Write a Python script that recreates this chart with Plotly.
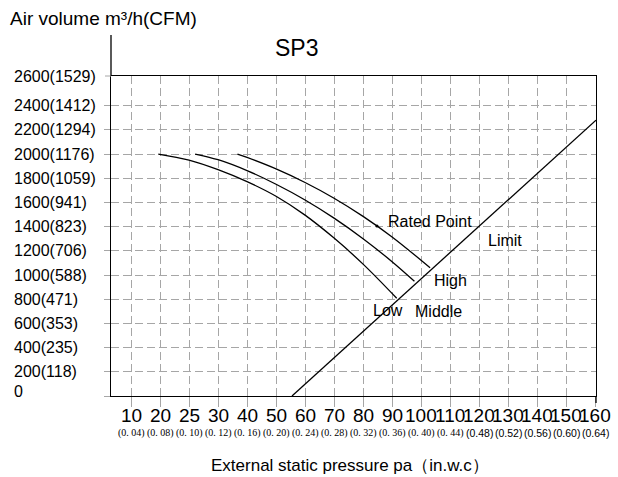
import plotly.graph_objects as go

# ---------------- data ----------------
x_tick_pos = [0, 10, 20, 30, 40, 50, 60, 70, 80, 90, 100, 110, 120, 130, 140, 150, 160]
x_tick_text = ["10", "20", "25", "30", "40", "50", "60", "70", "80", "90", "100",
               "110", "120", "130", "140", "150", "160"]
x_sub_text = ["(0. 04)", "(0. 08)", "(0. 10)", "(0. 12)", "(0. 16)", "(0. 20)", "(0. 24)",
              "(0. 28)", "(0. 32)", "(0. 36)", "(0. 40)", "(0. 44)", "(0.48)", "(0.52)",
              "(0.56)", "(0.60)", "(0.64)"]
y_tick_vals = [0, 200, 400, 600, 800, 1000, 1200, 1400, 1600, 1800, 2000, 2200, 2400]
y_tick_text = ["0", "200(118)", "400(235)", "600(353)", "800(471)", "1000(588)", "1200(706)",
               "1400(823)", "1600(941)", "1800(1059)", "2000(1176)", "2200(1294)", "2400(1412)"]
y_top_text = "2600(1529)"

low_p = [9.4, 20, 30, 40, 50, 60, 70, 80, 91.6]
low_v = [2000, 1950, 1871, 1772, 1651, 1495, 1305, 1090, 808]
mid_p = [22.1, 30, 40, 50, 60, 70, 80, 90, 97.7]
mid_v = [2000, 1953, 1863, 1750, 1620, 1470, 1300, 1110, 948]
high_p = [36.7, 40, 50, 60, 70, 80, 90, 103.1]
high_v = [2000, 1972, 1877, 1765, 1635, 1485, 1315, 1060]
limit_p = [55.5, 160.3]
limit_v = [0, 2280]
rated_p = [84.8]
rated_v = [1405]

# ---------------- layout geometry ----------------
W, H = 618, 477
L, R, T, B = 111, 22, 76, 81
PW, PH = W - L - R, H - T - B


def px(xp):
    return (xp - L) / PW


def py(yp):
    return (H - B - yp) / PH


FONT = "Arial, Liberation Sans, sans-serif"
GRID = "#a6a6a6"

fig = go.Figure()
for xs, ys in [(low_p, low_v), (mid_p, mid_v), (high_p, high_v)]:
    fig.add_trace(go.Scatter(x=xs, y=ys, mode="lines",
                             line=dict(color="black", width=1.3, shape="spline"),
                             showlegend=False, hoverinfo="skip"))
fig.add_trace(go.Scatter(x=limit_p, y=limit_v, mode="lines",
                         line=dict(color="black", width=1.3),
                         showlegend=False, hoverinfo="skip"))
fig.add_trace(go.Scatter(x=rated_p, y=rated_v, mode="markers",
                         marker=dict(color="black", size=3),
                         showlegend=False, hoverinfo="skip"))

fig.update_xaxes(range=[-6.9, 160.3], tickvals=x_tick_pos, ticktext=[""] * len(x_tick_pos),
                 showgrid=True, gridcolor=GRID, griddash="8px,4px", gridwidth=1,
                 ticks="outside", ticklen=10, tickcolor=GRID, tickwidth=1,
                 showline=True, linecolor="black", linewidth=1.3, mirror=True,
                 zeroline=False, fixedrange=True)
fig.update_yaxes(range=[0, 2645], tickvals=y_tick_vals, ticktext=[""] * len(y_tick_vals),
                 showgrid=True, gridcolor=GRID, griddash="8px,4px", gridwidth=1,
                 ticks="outside", ticklen=6, tickcolor=GRID, tickwidth=1,
                 showline=True, linecolor="black", linewidth=1.3, mirror=True,
                 zeroline=False, fixedrange=True)

ann = []
# x tick labels
for i, (xv, t, s) in enumerate(zip(x_tick_pos, x_tick_text, x_sub_text)):
    ann.append(dict(x=xv, y=py(415), xref="x", yref="paper", text=t, showarrow=False,
                    font=dict(family=FONT, size=19, color="black"),
                    xanchor="center", yanchor="middle"))
    if i < 12:
        sf = dict(family="Liberation Serif, DejaVu Serif, serif", size=10, color="black")
    else:
        sf = dict(family=FONT, size=10.5, color="black")
    ann.append(dict(x=xv, y=py(433), xref="x", yref="paper", text=s, showarrow=False,
                    font=sf, xanchor="center", yanchor="middle"))
# y tick labels (left aligned)
for yv, t in zip(y_tick_vals, y_tick_text):
    ann.append(dict(x=px(12), y=yv, xref="paper", yref="y", text=t, showarrow=False,
                    font=dict(family=FONT, size=16, color="black"),
                    xanchor="left", yanchor="middle", yshift=5 if yv == 0 else 0))
ann.append(dict(x=px(12), y=1, xref="paper", yref="paper", text=y_top_text, showarrow=False,
                font=dict(family=FONT, size=16, color="black"),
                xanchor="left", yanchor="middle"))
# titles
ann.append(dict(x=px(8), y=py(18), xref="paper", yref="paper", text="Air volume m³/h(CFM)",
                showarrow=False, font=dict(family=FONT, size=19, color="black"),
                xanchor="left", yanchor="middle"))
ann.append(dict(x=px(296), y=py(48), xref="paper", yref="paper", text="SP3",
                showarrow=False, font=dict(family=FONT, size=23, color="black"),
                xanchor="center", yanchor="middle"))
ann.append(dict(x=px(350), y=py(465), xref="paper", yref="paper",
                text="External static pressure pa（in.w.c）",
                showarrow=False, font=dict(family=FONT, size=17, color="black"),
                xanchor="center", yanchor="middle"))
# curve labels
for t, xv, yv in [("Rated Point", 87.9, 1440), ("Limit", 122.4, 1283), ("High", 103.8, 952),
                  ("Low", 82.8, 703), ("Middle", 97.2, 695)]:
    ann.append(dict(x=xv, y=yv, xref="x", yref="y", text=t, showarrow=False,
                    font=dict(family=FONT, size=16, color="black"),
                    xanchor="left", yanchor="middle"))

shapes = [
    dict(type="line", xref="paper", yref="paper", x0=0, x1=0, y0=1, y1=py(35),
         line=dict(color="black", width=1.3)),
    dict(type="line", xref="paper", yref="paper", x0=1, x1=1, y0=0, y1=py(403),
         line=dict(color="black", width=1.3)),
    dict(type="line", xref="paper", yref="paper", x0=px(105), x1=0, y0=1, y1=1,
         line=dict(color=GRID, width=1)),
]

fig.update_layout(width=W, height=H, margin=dict(l=L, r=R, t=T, b=B),
                  paper_bgcolor="white", plot_bgcolor="white",
                  annotations=ann, shapes=shapes, showlegend=False,
                  font=dict(family=FONT, color="black"))

fig.write_html("out.html", config={"displayModeBar": False},
               post_script="document.body.style.margin='0px';document.body.style.padding='0px';")
